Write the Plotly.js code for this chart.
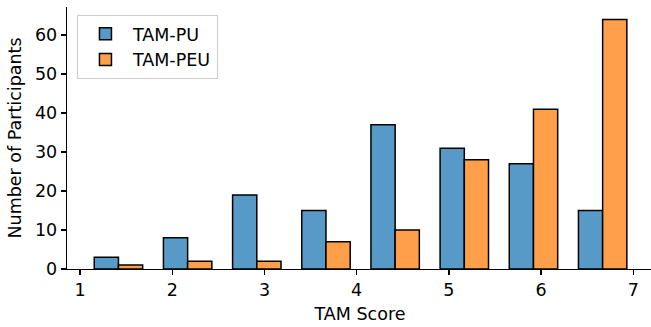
<!DOCTYPE html>
<html>
<head>
<meta charset="utf-8">
<script src="https://cdn.plot.ly/plotly-3.0.1.min.js"></script>
<style>
html, body { margin: 0; padding: 0; width: 651px; height: 327px; overflow: hidden; background: #fff; }
#chart { width: 653px; height: 327px; }
</style>
</head>
<body>
<div id="chart"></div>
<script>
// Bin centers (TAM score bins) and counts
const binCenters = [1.417, 2.167, 2.917, 3.667, 4.417, 5.167, 5.917, 6.667];
const tamPU = [3, 8, 19, 15, 37, 31, 27, 15];
const tamPEU = [1, 2, 2, 7, 10, 28, 41, 64];
const seriesNames = ['TAM-PU', 'TAM-PEU'];
const xTicks = [1, 2, 3, 4, 5, 6, 7];
const yTicks = [0, 10, 20, 30, 40, 50, 60];

const barW = 0.2625;
const FS = 17.5;
const font = { family: 'DejaVu Sans, sans-serif', size: FS, color: '#000' };

const traces = [
  {
    type: 'bar', name: seriesNames[0], x: binCenters, y: tamPU,
    width: barW, offset: -barW,
    marker: { color: '#5799c7', line: { color: '#000', width: 1.5 } }
  },
  {
    type: 'bar', name: seriesNames[1], x: binCenters, y: tamPEU,
    width: barW, offset: 0,
    marker: { color: '#ff9f4a', line: { color: '#000', width: 1.5 } }
  }
];

const layout = {
  width: 653, height: 327,
  margin: { l: 67, r: 0, t: 7, b: 57.7 },
  paper_bgcolor: '#fff', plot_bgcolor: '#fff',
  barmode: 'overlay',
  font: font,
  showlegend: true,
  legend: {
    x: 0.017, y: 0.97, xanchor: 'left', yanchor: 'top',
    bgcolor: 'rgba(255,255,255,0.8)', bordercolor: '#cccccc', borderwidth: 1,
    font: font, itemwidth: 45,
    traceorder: 'normal'
  },
  xaxis: {
    range: [0.859, 7.213],
    tickvals: xTicks, ticktext: xTicks.map(String),
    ticks: 'outside', ticklen: 5, tickwidth: 1.3, tickcolor: '#000',
    showline: true, linecolor: '#000', linewidth: 1.3,
    showgrid: false, zeroline: false,
    tickfont: font,
    title: { text: 'TAM Score', font: font, standoff: 8 }
  },
  yaxis: {
    range: [0, 67.2],
    tickvals: yTicks, ticktext: yTicks.map(String),
    ticks: 'outside', ticklen: 5, tickwidth: 1.3, tickcolor: '#000',
    showline: true, linecolor: '#000', linewidth: 1.3,
    showgrid: false, zeroline: false,
    tickfont: font,
    title: { text: 'Number of Participants', font: font, standoff: 8 }
  }
};

Plotly.newPlot('chart', traces, layout, { displayModeBar: false, staticPlot: true });
</script>
</body>
</html>
